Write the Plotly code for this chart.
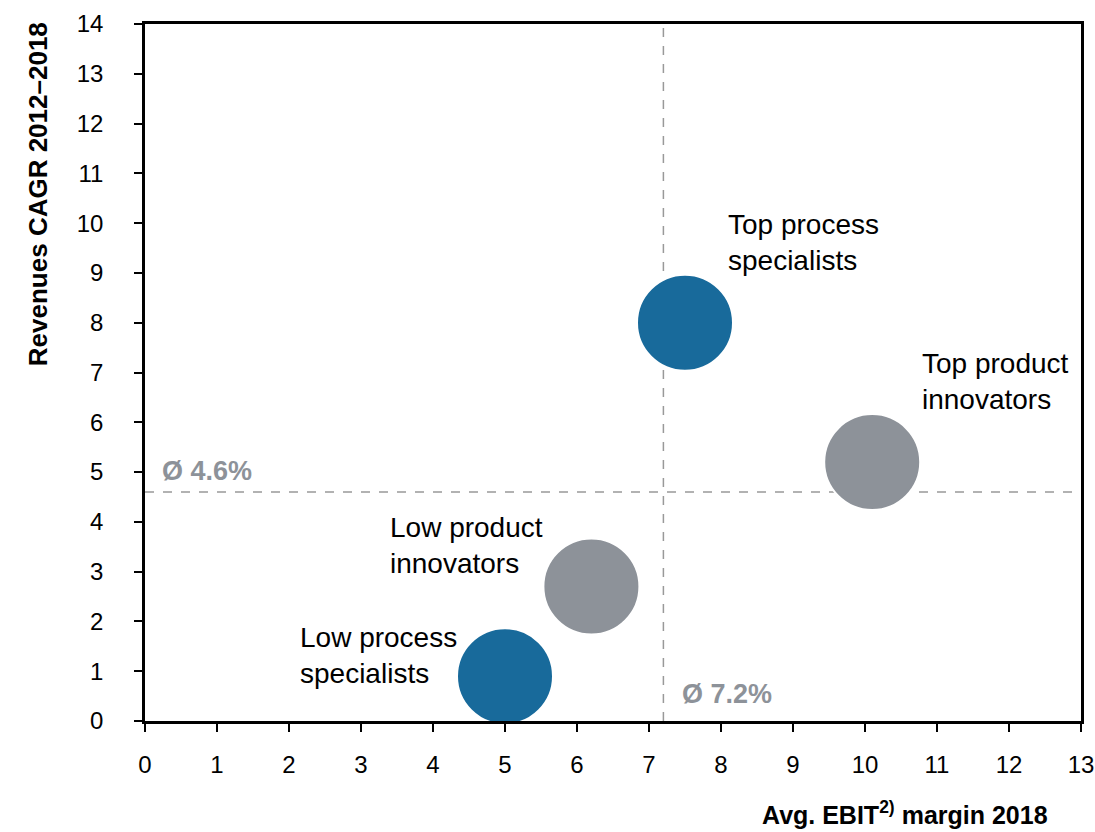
import plotly.graph_objects as go

# Segment positions: average EBIT margin (x) vs. revenue CAGR (y)
segments = ["Top process specialists", "Top product innovators",
            "Low product innovators", "Low process specialists"]
ebit_margin = [7.5, 10.1, 6.2, 5.0]
revenue_cagr = [8.0, 5.2, 2.7, 0.9]
segment_colors = ["#186A9B", "#8D9299", "#8D9299", "#186A9B"]

# Segment label text and anchor positions (data units)
label_text = ["Top process<br>specialists", "Top product<br>innovators",
              "Low product<br>innovators", "Low process<br>specialists"]
label_x = [8.07, 10.76, 3.37, 2.13]
label_y = [9.62, 6.82, 3.52, 1.32]

# Averages across all companies
avg_ebit = 7.2
avg_cagr = 4.6

x_ticks = list(range(0, 14))
y_ticks = list(range(0, 15))

FONT = "Liberation Sans Narrow, Arial Narrow, Liberation Sans, Arial, sans-serif"
GREY = "#8D9299"

fig = go.Figure()

fig.add_trace(go.Scatter(
    x=ebit_margin, y=revenue_cagr, mode="markers",
    marker=dict(size=96, color=segment_colors, opacity=1,
                line=dict(color="white", width=2)),
    hoverinfo="text", text=segments, showlegend=False,
))

# Average reference lines
fig.add_shape(type="line", x0=avg_ebit, x1=avg_ebit, y0=0, y1=14,
              xref="x", yref="y", layer="below",
              line=dict(color="#999999", width=1.5, dash="dash"))
fig.add_shape(type="line", x0=0, x1=13, y0=avg_cagr, y1=avg_cagr,
              xref="x", yref="y", layer="below",
              line=dict(color="#999999", width=1.5, dash="dash"))

for t, lx, ly in zip(label_text, label_x, label_y):
    fig.add_annotation(x=lx, y=ly, text=t, showarrow=False, xanchor="left",
                       yanchor="middle", align="left",
                       font=dict(family=FONT, size=28, color="black"))

fig.add_annotation(x=0.21, y=5.03, text=f"<b>Ø {avg_cagr}%</b>", showarrow=False,
                   xanchor="left", yanchor="middle",
                   font=dict(family=FONT, size=27, color=GREY))
fig.add_annotation(x=7.43, y=0.54, text=f"<b>Ø {avg_ebit}%</b>", showarrow=False,
                   xanchor="left", yanchor="middle",
                   font=dict(family=FONT, size=27, color=GREY))

axis_common = dict(
    showgrid=False, zeroline=False, showline=True, linecolor="black",
    linewidth=2.5, mirror=True, ticks="outside", ticklen=8, tickwidth=2,
    tickcolor="black", tickfont=dict(family=FONT, size=24, color="black"),
    ticklabeloverflow="allow", automargin=False,
)

fig.update_xaxes(range=[0, 13], tickvals=x_ticks, ticklabelstandoff=12, **axis_common)
fig.update_yaxes(range=[0, 14], tickvals=y_ticks, ticklabelstandoff=26, **axis_common)

fig.add_annotation(x=0.967, y=-0.132, xref="paper", yref="paper",
                   text="<b>Avg. EBIT<sup>2)</sup> margin 2018</b>", showarrow=False,
                   xanchor="right", yanchor="middle",
                   font=dict(family=FONT, size=25, color="black"))
fig.add_annotation(x=-0.115, y=1.006, xref="paper", yref="paper",
                   text="<b>Revenues CAGR 2012–2018</b>", showarrow=False,
                   textangle=-90, xanchor="center", yanchor="top",
                   font=dict(family=FONT, size=26, color="black"))

fig.update_layout(
    width=1095, height=832,
    margin=dict(l=145, r=14, t=24, b=111),
    paper_bgcolor="white", plot_bgcolor="white",
    font=dict(family=FONT),
)

fig.write_html("out.html")
